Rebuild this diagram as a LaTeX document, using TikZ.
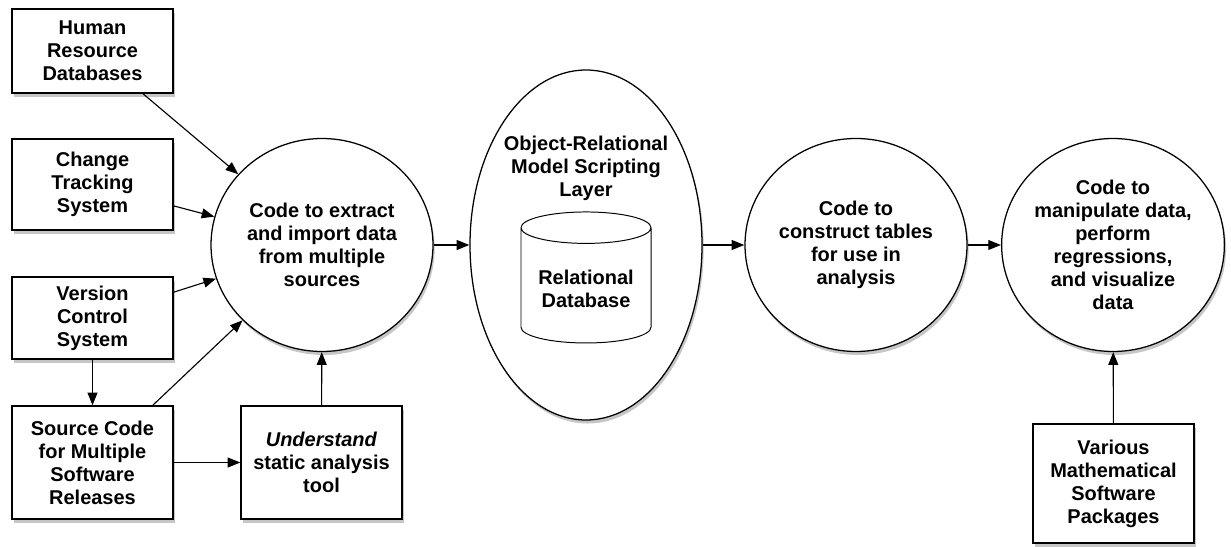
\documentclass[tikz,border=0pt]{standalone}
\usepackage{fontspec}
\setmainfont{Liberation Sans}
\usetikzlibrary{shapes.geometric,shadows,arrows.meta}

\tikzset{
  txt/.style={align=center, font=\fontsize{14.2}{16.4}\selectfont\bfseries},
  shade/.style={drop shadow={shadow xshift=1.2pt, shadow yshift=-2.5pt, opacity=0.45}},
  srcbox/.style={txt, draw, line width=0.9pt, fill=white, shade, minimum width=4.025cm, inner sep=0pt},
  stage/.style={txt, ellipse, draw, line width=0.9pt, fill=white, shade, inner sep=0pt},
  flow/.style={-{Triangle[length=9pt,width=7pt]}, line width=0.8pt},
}

\begin{document}
\begin{tikzpicture}
\useasboundingbox (0,0) rectangle (30.775,13.65);

\node[srcbox, minimum height=2.1cm] (hr) at (2.3125,12.375) {Human\\Resource\\Databases};
\node[srcbox, minimum height=2.275cm] (track) at (2.3125,9.0375) {Change\\Tracking\\System};
\node[srcbox, minimum height=2.05cm] (vcs) at (2.3125,5.7) {Version\\Control\\System};
\node[srcbox, minimum height=2.825cm] (src) at (2.3125,2.0875) {Source Code\\for Multiple\\Software\\Releases};
\node[srcbox, minimum height=2.825cm] (understand) at (8.0375,2.0875) {\textit{Understand}\\static analysis\\tool};

\node[stage, minimum width=5.55cm, minimum height=5.325cm] (extract) at (8.05,7.525) {Code to extract\\and import data\\from multiple\\sources};

\node[stage, minimum width=5.8cm, minimum height=8.75cm] (orm) at (14.65,7.525) {};
\node[txt] (ormlabel) at (14.65,9.45) {Object-Relational\\Model Scripting\\Layer};
\node[txt, cylinder, shape border rotate=90, draw, line width=0.7pt, aspect=0.3, minimum width=3.25cm, minimum height=3.275cm] (db) at (14.65,6.4375) {Relational\\Database};

\node[stage, minimum width=5.55cm, minimum height=5.325cm] (tables) at (21.4,7.525) {Code to\\construct tables\\for use in\\analysis};
\node[stage, minimum width=5.525cm, minimum height=5.325cm] (analyze) at (27.825,7.525) {Code to\\manipulate data,\\perform\\regressions,\\and visualize\\data};

\node[srcbox, minimum height=2.975cm] (math) at (27.8375,1.5625) {Various\\Mathematical\\Software\\Packages};

% inputs
\draw[flow] (hr) -- (extract);
\draw[flow] (track) -- (extract);
\draw[flow] (vcs) -- (extract);
\draw[flow] (vcs) -- (src);
\draw[flow] (src) -- (extract);
\draw[flow] (src) -- (understand);
\draw[flow] (understand) -- (extract);

% pipeline
\draw[flow] (extract) -- (orm);
\draw[flow] (orm) -- (tables);
\draw[flow] (tables) -- (analyze);
\draw[flow] (math) -- (analyze);
\end{tikzpicture}
\end{document}
